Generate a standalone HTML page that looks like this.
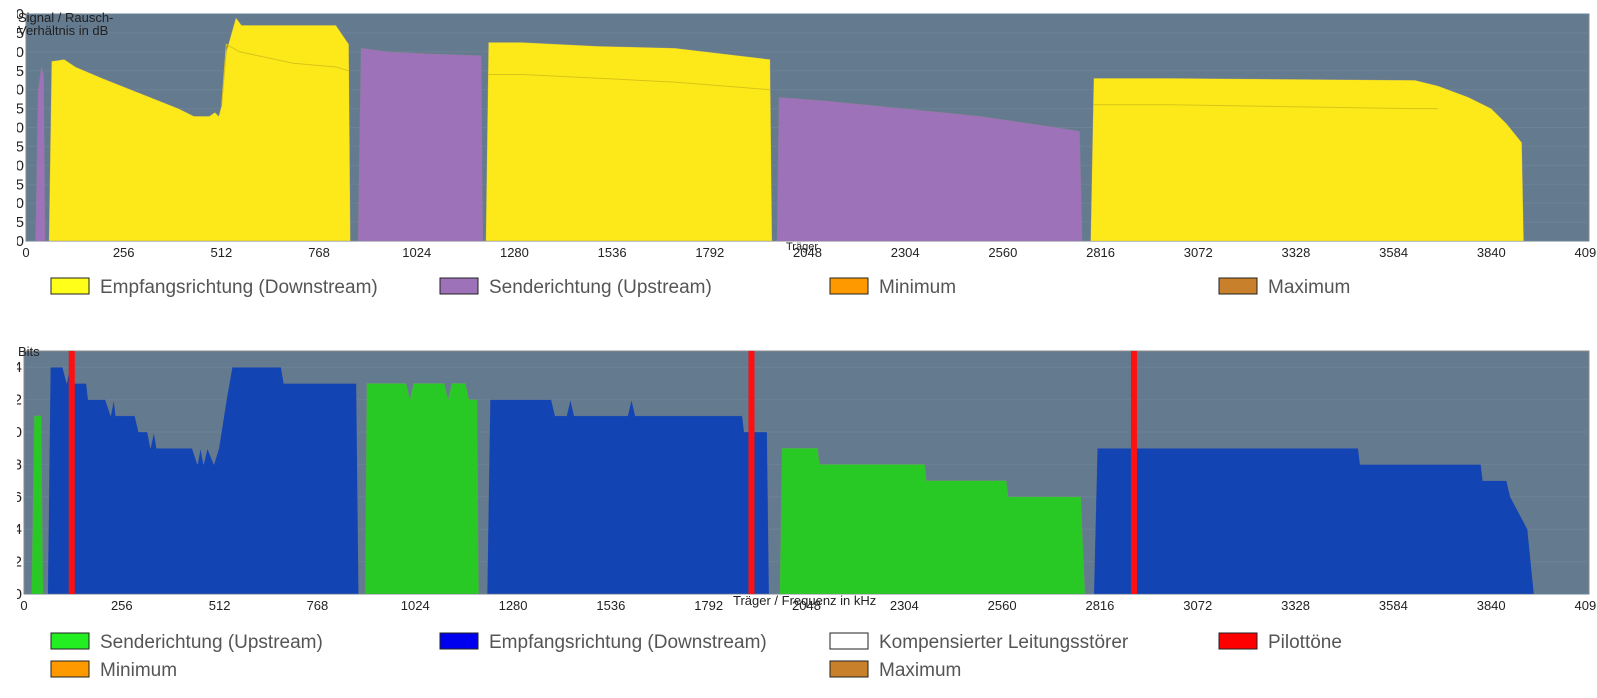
<!DOCTYPE html>
<html><head><meta charset="utf-8"><style>
body{margin:0;background:#fff;}
svg{display:block;font-family:"Liberation Sans",sans-serif;}
</style></head><body>
<svg id="root" width="1597" height="698" viewBox="0 0 1597 698" xmlns="http://www.w3.org/2000/svg">
<defs>
<clipPath id="ylab1"><rect x="17" y="0" width="11" height="260"/></clipPath>
<clipPath id="ylab2"><rect x="17" y="340" width="9" height="270"/></clipPath>
</defs>
<g id="chart1"></g>
<g id="chart2"></g>
<g id="legends"></g>
</svg>
<script>
// ---- SNR chart data ----
const snrTicksY = [0,5,10,15,20,25,30,35,40,45,50,55,60];
const xTicks = [0,256,512,768,1024,1280,1536,1792,2048,2304,2560,2816,3072,3328,3584,3840,4096];
const snrDsCarriers = [60,67,100,130,200,300,400,440,480,495,505,513,525,550,565,700,812,846,850,
  1205,1212,1300,1500,1700,1950,1955,
  2790,2798,3000,3640,3700,3780,3840,3880,3920,3925];
const snrDsValues = [0,47.5,48,46,43,39,35,33,33,34,33,36,50,59,57,57,57,52,0,
  0,52.5,52.5,51.5,51,48,0,
  0,43,43,42.5,41,38,35,31,26,0];
const snrUsCarriers = [25,32,40,46,50, 870,878,950,1050,1193,1197, 1968,1973,2100,2300,2500,2700,2761,2768];
const snrUsValues = [0,40,46,44,0, 0,51,50,49.5,49,0, 0,38,37,35,33,30,29,0];
const snrMinCarriers = [[513,525,560,700,812,846],[1212,1300,1500,1700,1950],[2798,3000,3640,3700]];
const snrMinValues = [[36,52,50,47,46,45],[44,44,43,42,40],[36,36,35,35]];
// ---- Bits chart data ----
const bitTicksY = [0,2,4,6,8,10,12,14];
const bitsDsCarriers = [62,69,101,112,120,125,163,168,213,227,235,240,290,300,323,331,340,347,440,454,462,470,480,497,510,530,545,673,680,870,876,
  1212,1220,1380,1390,1420,1430,1440,1580,1590,1600,1880,1885,1945,1950,
  2800,2809,3492,3497,3813,3818,3880,3890,3935,3952];
const bitsDsValues = [0,14,14,13,14,13,13,12,12,11,12,11,11,10,10,9,10,9,9,8,9,8,9,8,9,12,14,14,13,13,0,
  0,12,12,11,11,12,11,11,12,11,11,10,10,0,
  0,9,9,8,8,7,7,6,4,0];
const bitsUsCarriers = [20,27,45,50, 893,897,1000,1010,1020,1100,1110,1120,1155,1165,1186,1190,
  1978,1984,2077,2082,2357,2362,2571,2576,2766,2777];
const bitsUsValues = [0,11,11,0, 0,13,13,12,13,13,12,13,13,12,12,0,
  0,9,9,8,8,7,7,6,6,0];
const pilotCarriers = [125,1904,2905];

const NS="http://www.w3.org/2000/svg";
function mk(tag,attrs,parent){const e=document.createElementNS(NS,tag);for(const k in attrs)e.setAttribute(k,attrs[k]);parent.appendChild(e);return e;}

function drawChart(g, box, ymax, yTicks, clipId){
  const sx=c=>box.x+c*(box.w/4096);
  const sy=v=>box.y+box.h-v*(box.h/ymax);
  const bg=mk('rect',{x:box.x,y:box.y,width:box.w,height:box.h,fill:'#647a8e',stroke:'#8a8a8a','stroke-width':1},g);
  
  
  yTicks.forEach(t=>{
    const gl=mk('line',{x1:box.x,x2:box.x+box.w,y1:sy(t),y2:sy(t),stroke:'#6d8296','stroke-width':1},g);
    
    
    const tl=mk('text',{x:box.x-2,y:sy(t)+5,'text-anchor':'end','font-size':15,fill:'#222','clip-path':'url(#'+clipId+')'},g);
    tl.textContent=t;
    
    
  });
  xTicks.forEach(t=>{
    const tl=mk('text',{x:sx(t),y:box.y+box.h+16,'text-anchor':'middle','font-size':13,fill:'#222'},g);
    tl.textContent=t;
    
    
  });
  return {sx,sy};
}
function area(g,s,cs,vs,fill,name){
  let d='';cs.forEach((c,i)=>{d+=(i?'L':'M')+s.sx(c).toFixed(1)+','+s.sy(vs[i]).toFixed(1);});
  const p=mk('path',{d:d+'Z',fill:fill,stroke:'#888','stroke-width':0.6,'stroke-opacity':0.5},g);
  
  
}

// Chart 1
const g1=document.getElementById('chart1');
const s1=drawChart(g1,{x:26,y:14,w:1563,h:227},60,snrTicksY,'ylab1');
area(g1,s1,snrDsCarriers,snrDsValues,'#fde91a','snr-downstream-area');
area(g1,s1,snrUsCarriers,snrUsValues,'#9d72b9','snr-upstream-area');
snrMinCarriers.forEach((cs,j)=>{
  let d='';cs.forEach((c,i)=>{d+=(i?'L':'M')+s1.sx(c).toFixed(1)+','+s1.sy(snrMinValues[j][i]).toFixed(1);});
  const p=mk('path',{d:d,fill:'none',stroke:'#d8c418','stroke-width':1},g1);
  
  
});
let t=mk('text',{x:18,y:22,'font-size':13,fill:'#222'},g1);t.textContent='Signal / Rausch-';


t=mk('text',{x:18,y:35,'font-size':13,fill:'#222'},g1);t.textContent='Verhältnis in dB';


t=mk('text',{x:786,y:250,'font-size':11,fill:'#222'},g1);t.textContent='Träger';



// Chart 2
const g2=document.getElementById('chart2');
const s2=drawChart(g2,{x:24,y:351,w:1565,h:243},15,bitTicksY,'ylab2');
area(g2,s2,bitsDsCarriers,bitsDsValues,'#1245b3','bits-downstream-area');
area(g2,s2,bitsUsCarriers,bitsUsValues,'#29c925','bits-upstream-area');
pilotCarriers.forEach(c=>{
  const r=mk('rect',{x:s2.sx(c)-3,y:351,width:6,height:243,fill:'#ff1010'},g2);
  
  
});
t=mk('text',{x:18,y:356,'font-size':13,fill:'#222'},g2);t.textContent='Bits';


t=mk('text',{x:733,y:605,'font-size':13,fill:'#222'},g2);t.textContent='Träger / Frequenz in kHz';



// Legends
const lg=document.getElementById('legends');
const legendLabels=['Empfangsrichtung (Downstream)','Senderichtung (Upstream)','Minimum','Maximum',
 'Senderichtung (Upstream)','Empfangsrichtung (Downstream)','Kompensierter Leitungsstörer','Pilottöne','Minimum','Maximum'];
const legendColors=['#ffff1a','#9d72b9','#ff9900','#c8802a','#22ee22','#0000ee','#ffffff','#ff0000','#ff9900','#c8802a'];
const legendX=[51,440,830,1219,51,440,830,1219,51,830];
const legendY=[286,286,286,286,641,641,641,641,669,669];
legendLabels.forEach((lab,i)=>{
  const gg=mk('g',{},lg);
  
  
  mk('rect',{x:legendX[i],y:legendY[i]-8,width:38,height:16,fill:legendColors[i],stroke:'#222','stroke-width':1},gg);
  const tx=mk('text',{x:legendX[i]+49,y:legendY[i]+7,'font-size':19,fill:'#555'},gg);
  tx.textContent=lab;
});
</script>
</body></html>
